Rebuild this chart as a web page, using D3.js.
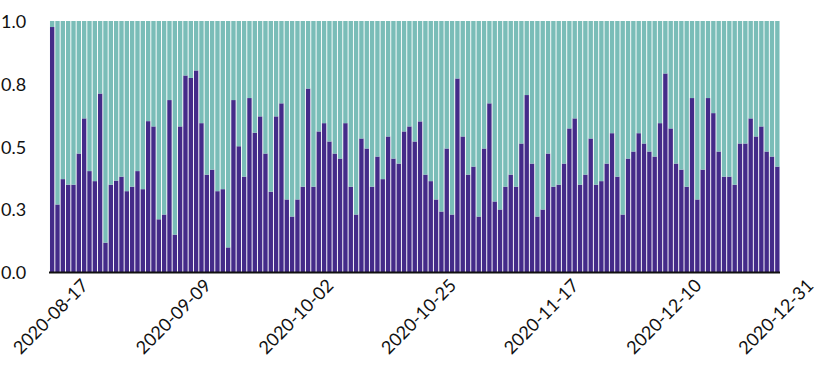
<!DOCTYPE html>
<html>
<head>
<meta charset="utf-8">
<script src="https://cdn.jsdelivr.net/npm/d3@7"></script>
<style>
 body{margin:0;background:#fff;}
 svg text{font-family:Lato,"Open Sans",sans-serif;fill:#111;}
</style>
</head>
<body>
<svg id="chart" width="822" height="368"></svg>
<script>
// ---- data ----
const startDay="2020-08-17", endDay="2020-12-31";
const share=[
 0.976,0.269,0.370,0.348,0.348,0.472,0.612,0.402,0.362,0.711,0.117,0.348,0.364,0.380,0.322,0.340,0.402,0.330,0.601,0.580,
 0.210,0.229,0.685,0.149,0.580,0.783,0.773,0.803,0.593,0.388,0.408,0.322,0.330,0.098,0.685,0.501,0.380,0.693,0.555,0.620,
 0.472,0.320,0.620,0.672,0.289,0.221,0.289,0.340,0.731,0.340,0.560,0.593,0.520,0.472,0.452,0.593,0.340,0.229,0.532,0.492,
 0.340,0.460,0.370,0.540,0.452,0.432,0.560,0.580,0.520,0.600,0.388,0.362,0.289,0.241,0.492,0.229,0.771,0.540,0.388,0.420,
 0.221,0.492,0.672,0.281,0.249,0.340,0.388,0.340,0.512,0.705,0.432,0.221,0.249,0.472,0.340,0.348,0.432,0.572,0.612,0.348,
 0.388,0.532,0.348,0.362,0.432,0.553,0.380,0.229,0.452,0.480,0.553,0.512,0.480,0.460,0.593,0.791,0.572,0.432,0.408,0.340,
 0.693,0.289,0.408,0.693,0.633,0.480,0.380,0.380,0.348,0.512,0.512,0.612,0.540,0.580,0.480,0.460,0.420
];
const xTickLabels=["2020-08-17","2020-09-09","2020-10-02","2020-10-25","2020-11-17","2020-12-10","2020-12-31"];
const yTicks=[0,0.25,0.5,0.75,1];
const yTickLabels=["0.0","0.3","0.5","0.8","1.0"];

const fmt=d3.utcFormat("%Y-%m-%d"), parse=d3.utcParse("%Y-%m-%d");
const days=d3.utcDay.range(parse(startDay),d3.utcDay.offset(parse(endDay),1)).map(fmt);
const rows=days.map((d,i)=>({day:d,a:share[i],b:1-share[i]}));

// ---- chart ----
const svg=d3.select("#chart");

const x=d3.scaleBand().domain(days).range([49.5,780]).paddingInner(0.18).paddingOuter(0.09);
const y=d3.scaleLinear().domain([0,1]).range([272,21]);

const stack=d3.stack().keys(["a","b"])(rows);
const colors={a:"#442b89",b:"#7abdb8"};

svg.append("g").selectAll("g")
 .data(stack).enter().append("g")
 .attr("fill",s=>colors[s.key])
 .selectAll("rect")
 .data(s=>s).enter().append("rect")
 .attr("x",d=>x(d.data.day))
 .attr("width",x.bandwidth())
 .attr("y",d=>y(d[1]))
 .attr("height",d=>y(d[0])-y(d[1]));

// baseline
svg.append("line")
 .attr("x1",49).attr("x2",780)
 .attr("y1",y(0)+0.5).attr("y2",y(0)+0.5)
 .attr("stroke","#111").attr("stroke-width",2);

// y labels
svg.append("g").selectAll("text")
 .data(yTicks).enter().append("text")
 .attr("x",1).attr("y",d=>y(d))
 .attr("dominant-baseline","central")
 .attr("font-size",18)
 .text((d,i)=>yTickLabels[i]);

// x labels, rotated, centred under the tick
svg.append("g").selectAll("text")
 .data(xTickLabels).enter().append("text")
 .attr("transform",d=>`translate(${x(d)+x.bandwidth()/2-2},316) rotate(-45)`)
 .attr("text-anchor","middle")
 .attr("dominant-baseline","central")
 .attr("font-size",18)
 .text(d=>d);
</script>
</body>
</html>
